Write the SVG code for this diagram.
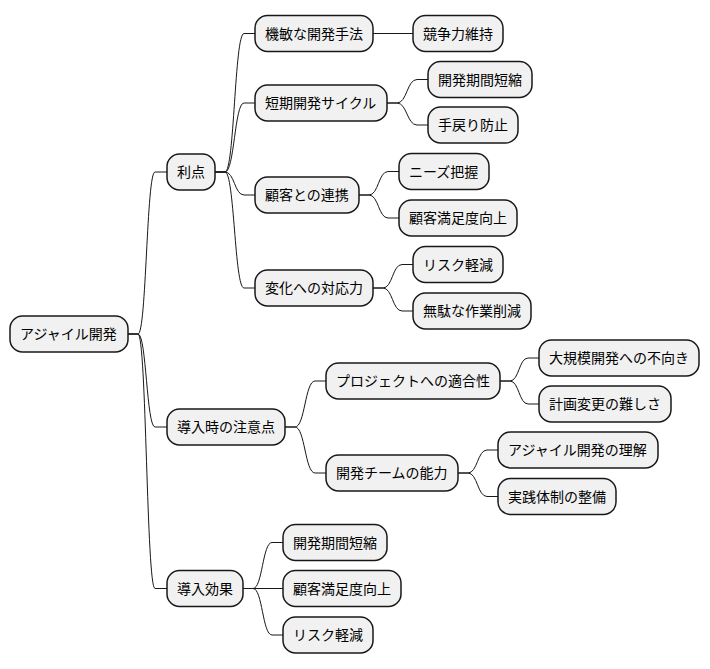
<svg xmlns="http://www.w3.org/2000/svg" width="710" height="669" viewBox="0 0 710 669">
<style>
.n rect{fill:#F1F1F1;stroke:#181818;stroke-width:1.5}
.n text{font-family:"Noto Sans CJK JP","Noto Sans CJK SC",sans-serif;font-size:14px;fill:#000}
.c path{fill:none;stroke:#181818;stroke-width:1}
</style>
<rect width="710" height="669" fill="#FFFFFF"/>
<g class="c">
<path d="M128,334 L138,334 C146.5,334 146.5,172 155,172 L167,172"/>
<path d="M128,334 L138,334 C146.5,334 146.5,427 155,427 L167,427"/>
<path d="M128,334 L138,334 C146.5,334 146.5,588.5 155,588.5 L167,588.5"/>
<path d="M215,172 L225,172 C234.5,172 234.5,33.5 244,33.5 L255,33.5"/>
<path d="M215,172 L225,172 C234.5,172 234.5,103 244,103 L255,103"/>
<path d="M215,172 L225,172 C234.5,172 234.5,195 244,195 L255,195"/>
<path d="M215,172 L225,172 C234.5,172 234.5,288 244,288 L255,288"/>
<path d="M373,33.5 L413,33.5"/>
<path d="M387,103 L397,103 C407,103 407,79.5 417,79.5 L428,79.5"/>
<path d="M387,103 L397,103 C407,103 407,125 417,125 L428,125"/>
<path d="M359,195 L369,195 C378.5,195 378.5,171.5 388,171.5 L399,171.5"/>
<path d="M359,195 L369,195 C378.5,195 378.5,218 388,218 L399,218"/>
<path d="M373,288 L383,288 C392.5,288 392.5,264.5 402,264.5 L413,264.5"/>
<path d="M373,288 L383,288 C392.5,288 392.5,311 402,311 L413,311"/>
<path d="M285,427 L295,427 C305,427 305,381 315,381 L326,381"/>
<path d="M285,427 L295,427 C305,427 305,473 315,473 L326,473"/>
<path d="M500,381 L510,381 C519,381 519,358 528,358 L539,358"/>
<path d="M500,381 L510,381 C519,381 519,404 528,404 L539,404"/>
<path d="M458,473 L468,473 C477.5,473 477.5,450 487,450 L498,450"/>
<path d="M458,473 L468,473 C477.5,473 477.5,496.5 487,496.5 L498,496.5"/>
<path d="M243,588.5 L253,588.5 C262.5,588.5 262.5,542.5 272,542.5 L283,542.5"/>
<path d="M243,588.5 L283,588.5"/>
<path d="M243,588.5 L253,588.5 C262.5,588.5 262.5,635 272,635 L283,635"/>
</g>
<g id="root" class="n"><rect x="10" y="316" width="118" height="36" rx="12.5"/><text x="20" y="339">アジャイル開発</text></g>
<g id="n1" class="n"><rect x="167" y="154" width="48" height="36" rx="12.5"/><text x="177" y="177">利点</text></g>
<g id="n1a" class="n"><rect x="255" y="15.5" width="118" height="36" rx="12.5"/><text x="265" y="38.5">機敏な開発手法</text></g>
<g id="n1a1" class="n"><rect x="413" y="15.5" width="90" height="36" rx="12.5"/><text x="423" y="38.5">競争力維持</text></g>
<g id="n1b" class="n"><rect x="255" y="85" width="132" height="36" rx="12.5"/><text x="265" y="108">短期開発サイクル</text></g>
<g id="n1b1" class="n"><rect x="428" y="61.5" width="104" height="36" rx="12.5"/><text x="438" y="84.5">開発期間短縮</text></g>
<g id="n1b2" class="n"><rect x="428" y="107" width="90" height="36" rx="12.5"/><text x="438" y="130">手戻り防止</text></g>
<g id="n1c" class="n"><rect x="255" y="177" width="104" height="36" rx="12.5"/><text x="265" y="200">顧客との連携</text></g>
<g id="n1c1" class="n"><rect x="399" y="153.5" width="90" height="36" rx="12.5"/><text x="409" y="176.5">ニーズ把握</text></g>
<g id="n1c2" class="n"><rect x="399" y="200" width="118" height="36" rx="12.5"/><text x="409" y="223">顧客満足度向上</text></g>
<g id="n1d" class="n"><rect x="255" y="270" width="118" height="36" rx="12.5"/><text x="265" y="293">変化への対応力</text></g>
<g id="n1d1" class="n"><rect x="413" y="246.5" width="90" height="36" rx="12.5"/><text x="423" y="269.5">リスク軽減</text></g>
<g id="n1d2" class="n"><rect x="413" y="293" width="118" height="36" rx="12.5"/><text x="423" y="316">無駄な作業削減</text></g>
<g id="n2" class="n"><rect x="167" y="409" width="118" height="36" rx="12.5"/><text x="177" y="432">導入時の注意点</text></g>
<g id="n2a" class="n"><rect x="326" y="363" width="174" height="36" rx="12.5"/><text x="336" y="386">プロジェクトへの適合性</text></g>
<g id="n2a1" class="n"><rect x="539" y="340" width="160" height="36" rx="12.5"/><text x="549" y="363">大規模開発への不向き</text></g>
<g id="n2a2" class="n"><rect x="539" y="386" width="132" height="36" rx="12.5"/><text x="549" y="409">計画変更の難しさ</text></g>
<g id="n2b" class="n"><rect x="326" y="455" width="132" height="36" rx="12.5"/><text x="336" y="478">開発チームの能力</text></g>
<g id="n2b1" class="n"><rect x="498" y="432" width="160" height="36" rx="12.5"/><text x="508" y="455">アジャイル開発の理解</text></g>
<g id="n2b2" class="n"><rect x="498" y="478.5" width="118" height="36" rx="12.5"/><text x="508" y="501.5">実践体制の整備</text></g>
<g id="n3" class="n"><rect x="167" y="570.5" width="76" height="36" rx="12.5"/><text x="177" y="593.5">導入効果</text></g>
<g id="n3a" class="n"><rect x="283" y="524.5" width="104" height="36" rx="12.5"/><text x="293" y="547.5">開発期間短縮</text></g>
<g id="n3b" class="n"><rect x="283" y="570.5" width="118" height="36" rx="12.5"/><text x="293" y="593.5">顧客満足度向上</text></g>
<g id="n3c" class="n"><rect x="283" y="617" width="90" height="36" rx="12.5"/><text x="293" y="640">リスク軽減</text></g>
</svg>
